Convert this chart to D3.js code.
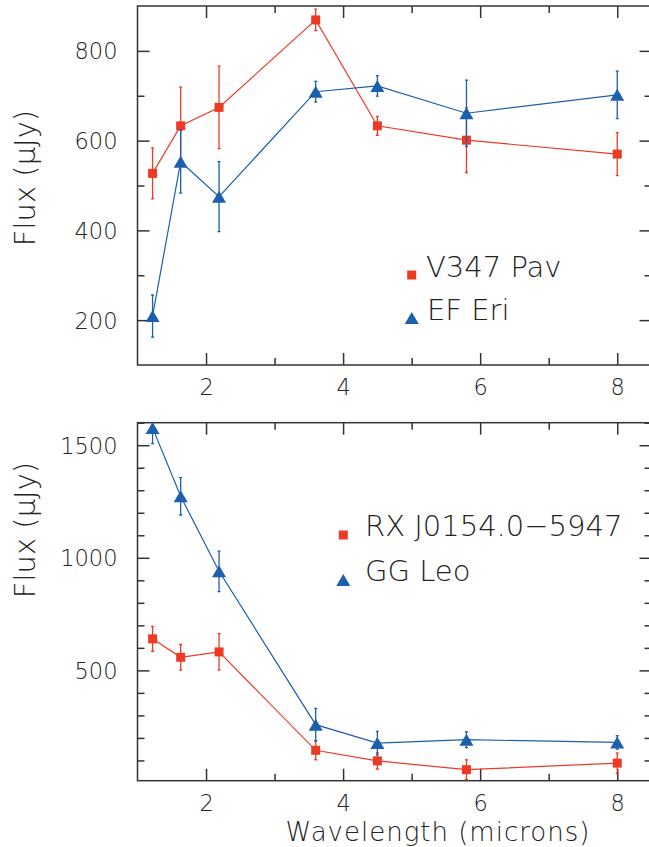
<!DOCTYPE html>
<html>
<head>
<meta charset="utf-8">
<script src="https://cdn.jsdelivr.net/npm/d3@7"></script>
<style>
  body { margin: 0; background: #fff; }
  text { font-family: "DejaVu Sans", sans-serif; font-weight: 200; fill: #222; }
</style>
</head>
<body>
<script>
// wavelengths (microns): J, H, K, IRAC 3.6/4.5/5.8/8.0
var wave = [1.22, 1.63, 2.19, 3.6, 4.5, 5.8, 8.0];

// top panel
var v347Flux = [527, 633, 674, 869, 633, 601, 570];
var v347Err = [57, 86, 92, 24, 21, 72, 48];
var efEriFlux = [209, 553, 475, 709, 722, 661, 702];
var efEriErr = [47, 70, 78, 23, 23, 74, 53];

// bottom panel
var rxFlux = [640, 558, 582, 145, 98, 59, 88];
var rxErr = [55, 57, 81, 42, 36, 44, 45];
var ggLeoFlux = [1577, 1273, 940, 259, 177, 192, 180];
var ggLeoErr = [70, 83, 90, 72, 52, 35, 30];

var xMajor = [2, 4, 6, 8];
var xMinor = [3, 5, 7];
var topMajor = [200, 400, 600, 800];
var topMinor = [300, 500, 700];
var botMajor = [500, 1000, 1500];
var botMinor = [100, 200, 300, 400, 600, 700, 800, 900, 1100, 1200, 1300, 1400, 1600];

var width = 649,
  height = 847;

var red = "#ec3a25",
  blue = "#1b5fad",
  axisColor = "#333";

var svg = d3.select("body").append("svg")
  .attr("width", width)
  .attr("height", height);

var x = d3.scaleLinear()
  .domain([1, 8.5])
  .range([137.5, 651.5]);

function panel(opts) {
  var y = d3.scaleLinear()
    .domain(opts.domain)
    .range([opts.bottom, opts.top]);

  var g = svg.append("g");

  var clipId = "clip" + opts.id;
  svg.append("clipPath")
    .attr("id", clipId)
    .append("rect")
    .attr("x", x.range()[0])
    .attr("y", opts.top)
    .attr("width", x.range()[1] - x.range()[0])
    .attr("height", opts.bottom - opts.top);

  // axes: inward ticks on all four sides
  function style(sel) {
    sel.select(".domain").remove();
    sel.selectAll("line").attr("stroke", axisColor).attr("stroke-width", 1.5);
    sel.selectAll("text").style("font-size", "22.5px").attr("fill", "#222");
  }

  g.append("g")
    .attr("transform", "translate(" + x.range()[0] + ",0)")
    .call(d3.axisLeft(y).tickValues(opts.major).tickSizeInner(-12).tickPadding(20).tickFormat(d3.format("d")))
    .call(style)
    .selectAll("text").attr("dy", "0.36em");
  g.append("g")
    .attr("transform", "translate(" + x.range()[0] + ",0)")
    .call(d3.axisLeft(y).tickValues(opts.minor).tickSizeInner(-7).tickFormat(""))
    .call(style);
  g.append("g")
    .attr("transform", "translate(" + x.range()[1] + ",0)")
    .call(d3.axisRight(y).tickValues(opts.major).tickSizeInner(-12).tickFormat(""))
    .call(style);
  g.append("g")
    .attr("transform", "translate(" + x.range()[1] + ",0)")
    .call(d3.axisRight(y).tickValues(opts.minor).tickSizeInner(-7).tickFormat(""))
    .call(style);

  var xb = g.append("g")
    .attr("transform", "translate(0," + opts.bottom + ")")
    .call(d3.axisBottom(x).tickValues(xMajor).tickSizeInner(-12).tickFormat(d3.format("d")))
    .call(style);
  xb.selectAll("text").attr("y", 30).attr("dy", null);
  g.append("g")
    .attr("transform", "translate(0," + opts.bottom + ")")
    .call(d3.axisBottom(x).tickValues(xMinor).tickSizeInner(-7).tickFormat(""))
    .call(style);
  g.append("g")
    .attr("transform", "translate(0," + opts.top + ")")
    .call(d3.axisTop(x).tickValues(xMajor).tickSizeInner(-12).tickFormat(""))
    .call(style);
  g.append("g")
    .attr("transform", "translate(0," + opts.top + ")")
    .call(d3.axisTop(x).tickValues(xMinor).tickSizeInner(-7).tickFormat(""))
    .call(style);

  g.append("rect")
    .attr("x", x.range()[0])
    .attr("y", opts.top)
    .attr("width", x.range()[1] - x.range()[0])
    .attr("height", opts.bottom - opts.top)
    .attr("fill", "none")
    .attr("stroke", axisColor)
    .attr("stroke-width", 1.5);

  // y title
  g.append("text")
    .attr("transform", "translate(35," + opts.titleY + ") rotate(-90)")
    .attr("text-anchor", "middle")
    .style("font-size", "29px")
    .text("Flux (\u03bcJy)");

  var line = d3.line()
    .x(function(d) { return x(d.w); })
    .y(function(d) { return y(d.f); });

  opts.series.forEach(function(s) {
    var pts = wave.map(function(w, i) { return { w: w, f: s.flux[i], e: s.err[i] }; });

    var clipped = g.append("g").attr("clip-path", "url(#" + clipId + ")");

    clipped.append("path")
      .datum(pts)
      .attr("d", line)
      .attr("fill", "none")
      .attr("stroke", s.color)
      .attr("stroke-width", 1.2);

    var eb = clipped.selectAll(null)
      .data(pts)
      .enter().append("g");
    eb.append("line")
      .attr("x1", function(d) { return x(d.w); })
      .attr("x2", function(d) { return x(d.w); })
      .attr("y1", function(d) { return y(d.f - d.e); })
      .attr("y2", function(d) { return y(d.f + d.e); })
      .attr("stroke", s.color)
      .attr("stroke-width", 1.3);
    [-1, 1].forEach(function(sign) {
      eb.append("line")
        .attr("x1", function(d) { return x(d.w) - 1.5; })
        .attr("x2", function(d) { return x(d.w) + 1.5; })
        .attr("y1", function(d) { return y(d.f + sign * d.e); })
        .attr("y2", function(d) { return y(d.f + sign * d.e); })
        .attr("stroke", s.color)
        .attr("stroke-width", 1.3);
    });

    g.selectAll(null)
      .data(pts)
      .enter().append("path")
      .attr("transform", function(d) { return "translate(" + x(d.w) + "," + y(d.f) + ")"; })
      .attr("d", s.shape)
      .attr("fill", s.color);
  });

  // legend
  opts.series.forEach(function(s, i) {
    var L = opts.legend[i];
    g.append("path")
      .attr("transform", "translate(" + L[0] + "," + L[1] + ")")
      .attr("d", s.shape)
      .attr("fill", s.color);
    g.append("text")
      .attr("x", L[2])
      .attr("y", L[3])
      .style("font-size", "29px")
      .text(s.name);
  });
}

var square = "M-4.5,-4.5H4.5V4.5H-4.5Z";
var triangle = "M0,-6L7,6H-7Z";

panel({
  id: "top",
  domain: [100, 900],
  top: 6,
  bottom: 365,
  major: topMajor,
  minor: topMinor,
  titleY: 178,
  series: [
    { name: "V347 Pav", flux: v347Flux, err: v347Err, color: red, shape: square },
    { name: "EF Eri", flux: efEriFlux, err: efEriErr, color: blue, shape: triangle }
  ],
  legend: [[411.7, 275, 426, 277], [411.7, 318, 427, 320]]
});

panel({
  id: "bot",
  domain: [10, 1600],
  top: 422.7,
  bottom: 780.7,
  major: botMajor,
  minor: botMinor,
  titleY: 530,
  series: [
    { name: "RX J0154.0\u22125947", flux: rxFlux, err: rxErr, color: red, shape: square },
    { name: "GG Leo", flux: ggLeoFlux, err: ggLeoErr, color: blue, shape: triangle }
  ],
  legend: [[343.3, 535, 365, 536], [343.3, 580, 365, 581]]
});

svg.append("text")
  .attr("x", 438)
  .attr("y", 840.5)
  .attr("text-anchor", "middle")
  .attr("letter-spacing", 1)
  .style("font-size", "26px")
  .text("Wavelength (microns)");
</script>
</body>
</html>
